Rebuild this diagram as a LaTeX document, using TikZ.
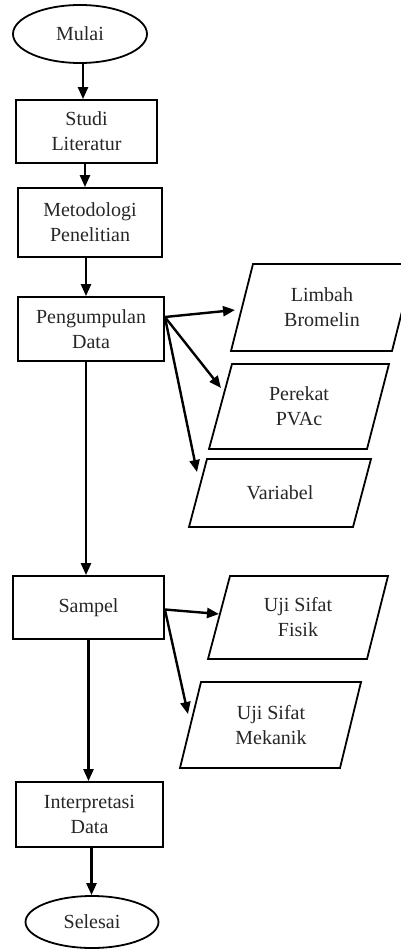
\documentclass[tikz,border=0pt]{standalone}
\usepackage{fontspec}
\setmainfont{Liberation Serif}
\usetikzlibrary{shapes.geometric,arrows.meta,calc}
\begin{document}
\begin{tikzpicture}[x=1pt,y=-1pt,
  txt/.style={font=\fontsize{20}{25}\selectfont, align=center, text=black!85},
  box/.style={txt, draw, line width=1.8pt, inner sep=0pt},
  term/.style={txt, ellipse, draw, line width=1.8pt, inner sep=0pt},
  para/.style={draw, line width=1.8pt, line join=miter},
  arr/.style={line width=2.4pt, -{Triangle[length=12pt,width=10pt]}}]
\useasboundingbox (0,0) rectangle (401,950);
\clip (0,0) rectangle (401,950);

% main column
\node[term, minimum width=134pt, minimum height=58pt] (mulai) at (80,34) {Mulai};
\node[box, minimum width=141pt, minimum height=63pt] (studi) at (86.5,131.5) {Studi\\Literatur};
\node[box, minimum width=144pt, minimum height=69pt] (metod) at (90,222.5) {Metodologi\\Penelitian};
\node[box, minimum width=146pt, minimum height=64pt] (peng) at (91,329) {Pengumpulan\\Data};
\node[box, minimum width=151pt, minimum height=63pt] (sampel) at (88.5,607.5) {Sampel};
\node[box, minimum width=147pt, minimum height=65pt] (interp) at (89.5,814.5) {Interpretasi\\Data};
\node[term, minimum width=133pt, minimum height=52pt] (selesai) at (92,922) {Selesai};

% parallelograms
\draw[para] (253,264) -- (414,264) -- (392,351) -- (231,351) -- cycle;
\node[txt] (limbah) at (322,307) {Limbah\\Bromelin};
\draw[para] (232,364) -- (389,364) -- (367,449) -- (209,449) -- cycle;
\node[txt] (perekat) at (299,406) {Perekat\\PVAc};
\draw[para] (207,459) -- (371,459) -- (353,527) -- (189,527) -- cycle;
\node[txt] (variabel) at (280,493) {Variabel};
\draw[para] (230,576) -- (388,576) -- (367,659) -- (208,659) -- cycle;
\node[txt] (fisik) at (298,617) {Uji Sifat\\Fisik};
\draw[para] (201,682) -- (361,682) -- (340,768) -- (180,768) -- cycle;
\node[txt] (mekanik) at (271,725) {Uji Sifat\\Mekanik};

% arrow tips on slanted edges
\coordinate (limbahIn) at (235,310);
\coordinate (perekatIn) at (221,388);
\coordinate (variabelIn) at (197,472);
\coordinate (fisikIn) at (219,614);
\coordinate (mekanikIn) at (188,714);

% vertical connectors
\draw[arr] ([xshift=3pt]mulai.south) -- ([xshift=3pt]mulai.south |- studi.north);
\draw[arr] ([xshift=-1.5pt]studi.south) -- ([xshift=-1.5pt]studi.south |- metod.north);
\draw[arr] ([xshift=-4pt]metod.south) -- ([xshift=-4pt]metod.south |- peng.north);
\draw[arr] ([xshift=-5pt]peng.south) -- ([xshift=-5pt]peng.south |- sampel.north);
\draw[arr] (sampel.south) -- (sampel.south |- interp.north);
\draw[arr] ([xshift=2pt]interp.south) -- ([xshift=2pt]interp.south |- selesai.north);

% branch connectors
\draw[arr] ([yshift=12pt]peng.east) -- (limbahIn);
\draw[arr] ([yshift=12pt]peng.east) -- (perekatIn);
\draw[arr] ([yshift=12pt]peng.east) -- (variabelIn);
\draw[arr] ([yshift=-2pt]sampel.east) -- (fisikIn);
\draw[arr] ([yshift=-2pt]sampel.east) -- (mekanikIn);
\end{tikzpicture}
\end{document}
